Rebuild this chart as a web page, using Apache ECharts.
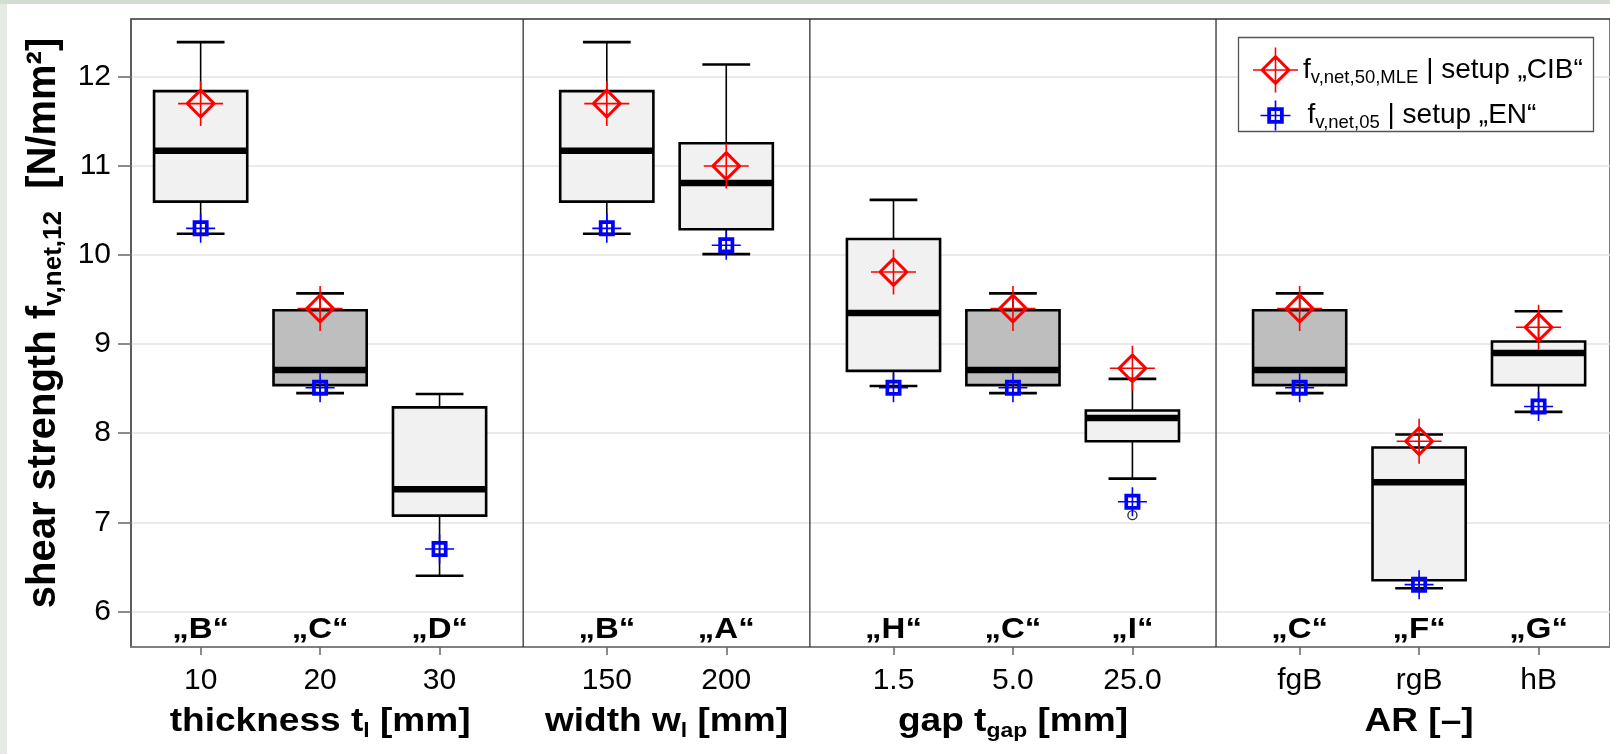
<!DOCTYPE html>
<html>
<head>
<meta charset="utf-8">
<script src="https://cdn.jsdelivr.net/npm/echarts@6/dist/echarts.min.js"></script>
<style>
  html, body { margin: 0; padding: 0; background: #ffffff; }
  #chart { width: 1610px; height: 754px; }
</style>
</head>
<body>
<div id="chart"></div>
<script>
const FONT = '"Liberation Sans", Arial, Helvetica, sans-serif';

// ---- data -------------------------------------------------------------
// number of boxes in each parameter panel
const panelSizes = [3, 2, 3, 3];
const panelTitles = [
  '{b|thickness t}{s|l}{b| [mm]}',
  '{b|width w}{s|l}{b| [mm]}',
  '{b|gap t}{s|gap}{b| [mm]}',
  '{b|AR [–]}'
];
const tickLabels  = ['10', '20', '30', '150', '200', '1.5', '5.0', '25.0', 'fgB', 'rgB', 'hB'];
const groupLetters = ['B', 'C', 'D', 'B', 'A', 'H', 'C', 'I', 'C', 'F', 'G'];

// box statistics of f_v,net,12 [N/mm²]
const whiskerLow  = [10.24, 8.45, 6.40, 10.24, 10.01, 8.53, 8.45, 7.49, 8.45, 6.26, 8.24];
const quart1      = [10.60, 8.54, 7.075, 10.60, 10.29, 8.70, 8.54, 7.91, 8.54, 6.35, 8.54];
const median      = [11.17, 8.71, 7.37, 11.17, 10.81, 9.35, 8.71, 8.17, 8.71, 7.45, 8.90];
const quart3      = [11.84, 9.38, 8.29, 11.84, 11.255, 10.18, 9.38, 8.255, 9.38, 7.84, 9.03];
const whiskerHigh = [12.39, 9.57, 8.44, 12.39, 12.14, 10.62, 9.57, 8.61, 9.57, 7.985, 9.37];

// characteristic values
const fMLE50 = [11.70, 9.40, null, 11.70, 11.00, 9.81, 9.40, 8.73, 9.40, 7.91, 9.19];
const fEN05  = [10.30, 8.51, 6.70, 10.30, 10.11, 8.51, 8.51, 7.23, 8.51, 6.30, 8.30];

// outliers: [box index, value]
const outliers = [[7, 7.08]];

const yTicks = [6, 7, 8, 9, 10, 11, 12];

// ---- layout -----------------------------------------------------------
const HIGHLIGHT = 'C';      // reference setup drawn with darker fill
const PANEL_GAP = 0.4;      // extra space between panels
const BOX_WIDTH = 0.78;
const CAP_WIDTH = 0.4;
const WIDE = 1.09;          // horizontal stretch of the bold captions

const positions = [];
const panels = [];
(function () {
  let p = 1;
  panelSizes.forEach((n, i) => {
    if (i > 0) p += PANEL_GAP;
    const start = p;
    for (let k = 0; k < n; k++) { positions.push(p); p += 1; }
    panels.push([start, p - 1, i]);
  });
})();

const boxData = positions.map((x, i) =>
  [x, whiskerLow[i], quart1[i], median[i], quart3[i], whiskerHigh[i], i]);
const mleData = positions.map((x, i) => [x, fMLE50[i]]).filter(d => d[1] != null);
const enData  = positions.map((x, i) => [x, fEN05[i]]);
const outlierData = outliers.map(o => [positions[o[0]], o[1]]);

// marker symbols: diamond / square outline with a cross through the centre
const ICON_MLE = 'path://M0,21.7L45,21.7L45,23.3L0,23.3Z M21.7,0L23.3,0L23.3,45L21.7,45Z ' +
  'M22.5,7L38,22.5L22.5,38L7,22.5Z M22.5,11.2L11.2,22.5L22.5,33.8L33.8,22.5Z';
const ICON_EN = 'path://M0,13.7L29,13.7L29,15.3L0,15.3Z M13.7,0L15.3,0L15.3,29L13.7,29Z ' +
  'M6.5,6.5L22.5,6.5L22.5,22.5L6.5,22.5Z M10.2,10.2L10.2,18.8L18.8,18.8L18.8,10.2Z';

const titleRich = {
  b: { fontFamily: FONT, fontWeight: 'bold', fontSize: 34, lineHeight: 39, color: '#000' },
  s: { fontFamily: FONT, fontWeight: 'bold', fontSize: 21, lineHeight: 10, verticalAlign: 'bottom', color: '#000' }
};
const legendRich = {
  m: { fontFamily: FONT, fontSize: 28, lineHeight: 34, color: '#000' },
  s: { fontFamily: FONT, fontSize: 18.5, lineHeight: 14, verticalAlign: 'bottom', color: '#000' }
};

function renderBox(params, api) {
  const x = api.value(0);
  const idx = api.value(6);
  const lo = api.coord([x, api.value(1)]);
  const cx = lo[0], yLo = lo[1];
  const yQ1 = api.coord([x, api.value(2)])[1];
  const yMed = api.coord([x, api.value(3)])[1];
  const yQ3 = api.coord([x, api.value(4)])[1];
  const yHi = api.coord([x, api.value(5)])[1];
  const half = api.size([BOX_WIDTH, 0])[0] / 2;
  const capHalf = api.size([CAP_WIDTH, 0])[0] / 2;
  const bottom = params.coordSys.y + params.coordSys.height;
  const fill = groupLetters[idx] === HIGHLIGHT ? '#bebebe' : '#f1f1f1';
  const black = '#000';
  return {
    type: 'group',
    children: [
      { type: 'line', shape: { x1: cx, y1: yHi, x2: cx, y2: yQ3 }, style: { stroke: black, lineWidth: 1.6 } },
      { type: 'line', shape: { x1: cx, y1: yQ1, x2: cx, y2: yLo }, style: { stroke: black, lineWidth: 1.6 } },
      { type: 'line', shape: { x1: cx - capHalf, y1: yHi, x2: cx + capHalf, y2: yHi }, style: { stroke: black, lineWidth: 2.6 } },
      { type: 'line', shape: { x1: cx - capHalf, y1: yLo, x2: cx + capHalf, y2: yLo }, style: { stroke: black, lineWidth: 2.6 } },
      { type: 'rect', shape: { x: cx - half, y: yQ3, width: 2 * half, height: yQ1 - yQ3 },
        style: { fill: fill, stroke: black, lineWidth: 2.6 } },
      { type: 'line', shape: { x1: cx - half, y1: yMed, x2: cx + half, y2: yMed }, style: { stroke: black, lineWidth: 6.5 } },
      { type: 'text', x: cx, y: bottom - 2, scaleX: 1.1,
        style: {
          text: '„' + groupLetters[idx] + '“', x: 0, y: 0,
          align: 'center', verticalAlign: 'bottom', textAlign: 'center', textVerticalAlign: 'bottom',
          font: 'bold 30px ' + FONT, fill: black } }
    ]
  };
}

function renderPanel(params, api) {
  const start = api.value(0), end = api.value(1), i = api.value(2);
  const cs = params.coordSys;
  const bottom = cs.y + cs.height;
  const cx = api.coord([(start + end) / 2, 6])[0];
  const children = [{
    type: 'text', x: cx, y: bottom + 75, scaleX: WIDE,
    style: {
      text: panelTitles[i], rich: titleRich, x: 0, y: 0,
      align: 'center', verticalAlign: 'middle', textAlign: 'center', textVerticalAlign: 'middle',
      fill: '#000'
    }
  }];
  if (i < panels.length - 1) {
    const sx = api.coord([(end + panels[i + 1][0]) / 2, 6])[0];
    children.push({ type: 'line', shape: { x1: sx, y1: cs.y, x2: sx, y2: bottom },
      style: { stroke: '#333', lineWidth: 1.3 } });
  }
  return { type: 'group', children: children };
}

const chart = echarts.init(document.getElementById('chart'), null, { renderer: 'canvas' });

chart.setOption({
  animation: false,
  backgroundColor: '#ffffff',
  textStyle: { fontFamily: FONT },
  grid: { left: 131, top: 19, right: -4, bottom: 107, show: true, borderColor: '#333', borderWidth: 1.3 },
  xAxis: {
    type: 'value', min: 0.417, max: 12.798,
    axisLine: { show: true, lineStyle: { color: '#808080', width: 2 } },
    axisTick: { show: true, customValues: positions, length: 8, lineStyle: { color: '#666', width: 1.5 } },
    axisLabel: {
      customValues: positions, margin: 19, fontSize: 30, color: '#000', fontFamily: FONT,
      formatter: v => {
        let best = 0;
        positions.forEach((p, i) => { if (Math.abs(p - v) < Math.abs(positions[best] - v)) best = i; });
        return tickLabels[best];
      }
    },
    splitLine: { show: false }
  },
  yAxis: {
    type: 'value', min: 5.6, max: 12.65,
    name: '{b|shear strength f}{s|v,net,12}{b|  [N/mm²]}',
    nameLocation: 'middle', nameRotate: 90, nameGap: 60,
    nameTextStyle: {
      fontFamily: FONT, fontWeight: 'bold', fontSize: 40, color: '#000',
      padding: [0, 0, 0, 20],
      rich: {
        b: { fontFamily: FONT, fontWeight: 'bold', fontSize: 40, lineHeight: 46, color: '#000' },
        s: { fontFamily: FONT, fontWeight: 'bold', fontSize: 26, lineHeight: 21, verticalAlign: 'bottom', color: '#000' }
      }
    },
    axisLine: { show: true, lineStyle: { color: '#555', width: 1.5 } },
    axisTick: { show: true, customValues: yTicks, length: 13, lineStyle: { color: '#666', width: 1.5 } },
    axisLabel: { customValues: yTicks, margin: 20, fontSize: 30, color: '#000', fontFamily: FONT },
    splitLine: { show: true, lineStyle: { color: '#e3e3e3', width: 1.5 } }
  },
  legend: [
    {
      data: ['MLE'], left: 1248, top: 42.5, itemWidth: 45, itemHeight: 45, icon: ICON_MLE,
      selectedMode: false, z: 6,
      formatter: () => '{m|f}{s|v,net,50,MLE}{m| | setup „CIB“}',
      textStyle: { rich: legendRich }
    },
    {
      data: ['EN'], left: 1255.5, top: 95.5, itemWidth: 30, itemHeight: 30, icon: ICON_EN,
      selectedMode: false, z: 6,
      formatter: () => '{p|f}{s|v,net,05}{m| | setup „EN“}',
      textStyle: { rich: Object.assign({ p: Object.assign({}, legendRich.m, { padding: [0, 0, 0, 12] }) }, legendRich) }
    }
  ],
  graphic: [
    { type: 'rect', left: 0, top: 0, z: 10, shape: { width: 7, height: 754 }, style: { fill: '#e5eae5' } },
    { type: 'rect', left: 0, top: 0, z: 10, shape: { width: 1610, height: 4 }, style: { fill: '#d3ddd3' } },
    { type: 'rect', z: 5, shape: { x: 1238.5, y: 37.5, width: 355, height: 94 },
      style: { fill: '#fff', stroke: '#555', lineWidth: 1.3 } }
  ],
  series: [
    { type: 'custom', name: 'panels', renderItem: renderPanel, data: panels, clip: false, z: 1, silent: true },
    { type: 'custom', name: 'boxes', renderItem: renderBox, data: boxData, clip: false, z: 2, silent: true },
    { type: 'scatter', name: 'outliers', data: outlierData, symbol: 'circle', symbolSize: 9, z: 3,
      itemStyle: { color: 'rgba(0,0,0,0)', borderColor: '#000', borderWidth: 1.4 } },
    { type: 'scatter', name: 'EN', data: enData, symbol: ICON_EN, symbolSize: 29, z: 4,
      itemStyle: { color: '#0000ff', opacity: 1 } },
    { type: 'scatter', name: 'MLE', data: mleData, symbol: ICON_MLE, symbolSize: 45, z: 4,
      itemStyle: { color: '#ff0000', opacity: 1 } }
  ]
});
</script>
</body>
</html>
